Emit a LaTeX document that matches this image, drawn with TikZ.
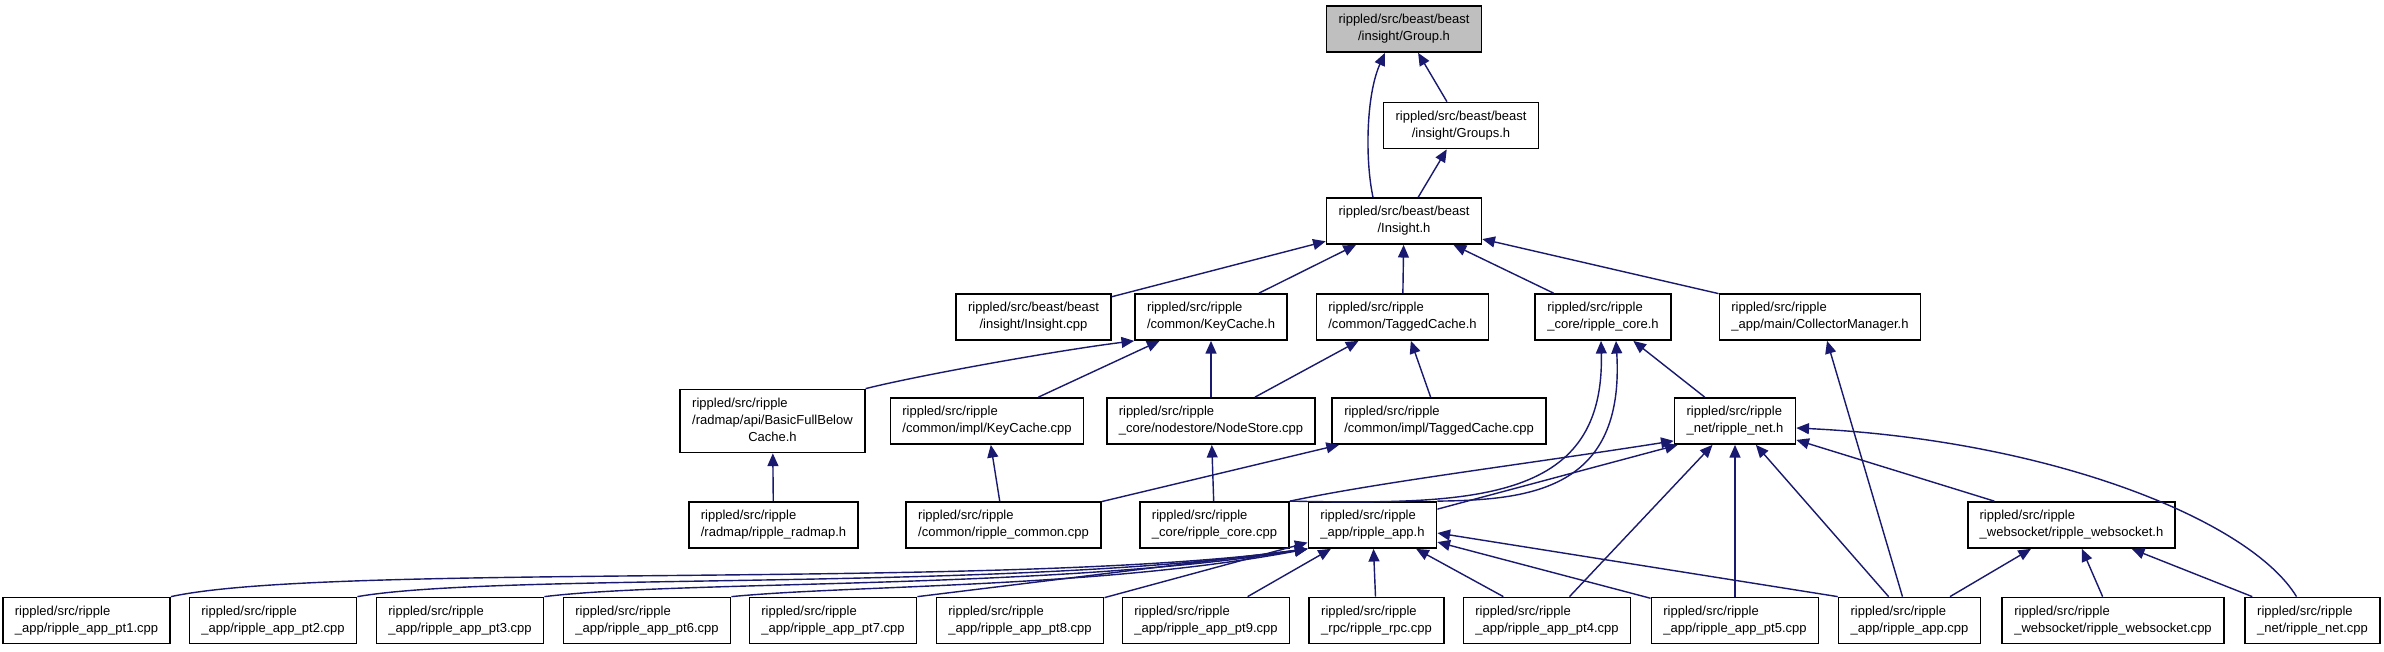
\documentclass[tikz,border=0pt]{standalone}
\usepackage{fontspec}
\setmainfont{Liberation Sans}
\usepackage{tikz}
\usetikzlibrary{arrows.meta,positioning,calc}
\definecolor{edgeblue}{RGB}{25,25,112}
% two-part label: upper lines left, last line centred
\newcommand{\flab}[2]{\begin{tabular}{@{}l@{}}#1\\\multicolumn{1}{@{}c@{}}{#2}\end{tabular}}

\begin{document}
\begin{tikzpicture}[
  x=0.01cm, y=-0.01cm,
  fnode/.style={draw=black, line width=0.5pt, fill=white, inner xsep=3.4pt, inner ysep=1.7pt, font=\fontsize{3.7}{4.84}\selectfont},
  curnode/.style={fnode, fill=gray!50},
  dep/.style={draw=edgeblue, line width=0.4pt, -{Triangle[length=3.6pt, width=3.1pt, fill=edgeblue]}}]
  \path[use as bounding box, fill=white] (0,0) rectangle (2384,651);
  % top of the graph
  \node[curnode] (group) at (1404,29) {\flab{rippled/src/beast/beast}{/insight/Group.h}};
  \node[fnode] (groups) at (1461,125.5) {\flab{rippled/src/beast/beast}{/insight/Groups.h}};
  \node[fnode] (insight) at (1404,221) {\flab{rippled/src/beast/beast}{/Insight.h}};
  % headers under Insight.h
  \node[fnode] (insightcpp) at (1033.5,317) {\flab{rippled/src/beast/beast}{/insight/Insight.cpp}};
  \node[fnode] (keycacheh) at (1211,317) {\flab{rippled/src/ripple}{/common/KeyCache.h}};
  \node[fnode] (taggedh) at (1402.5,317) {\flab{rippled/src/ripple}{/common/TaggedCache.h}};
  \node[fnode] (coreh) at (1603,317) {\flab{rippled/src/ripple}{\_core/ripple\_core.h}};
  \node[fnode] (collector) at (1820,317) {\flab{rippled/src/ripple}{\_app/main/CollectorManager.h}};
  % next level
  \node[fnode] (basicfull) at (772.5,421) {\flab{rippled/src/ripple\\/radmap/api/BasicFullBelow}{Cache.h}};
  \node[fnode] (keycachecpp) at (987,421) {\flab{rippled/src/ripple}{/common/impl/KeyCache.cpp}};
  \node[fnode] (nodestore) at (1211,421) {\flab{rippled/src/ripple}{\_core/nodestore/NodeStore.cpp}};
  \node[fnode] (taggedcpp) at (1439,421) {\flab{rippled/src/ripple}{/common/impl/TaggedCache.cpp}};
  \node[fnode] (neth) at (1735,421) {\flab{rippled/src/ripple}{\_net/ripple\_net.h}};
  % units and app header
  \node[fnode] (radmap) at (773.5,525) {\flab{rippled/src/ripple}{/radmap/ripple\_radmap.h}};
  \node[fnode] (commoncpp) at (1003.5,525) {\flab{rippled/src/ripple}{/common/ripple\_common.cpp}};
  \node[fnode] (corecpp) at (1214.5,525) {\flab{rippled/src/ripple}{\_core/ripple\_core.cpp}};
  \node[fnode] (apph) at (1372.5,525) {\flab{rippled/src/ripple}{\_app/ripple\_app.h}};
  \node[fnode] (wsh) at (2071.5,525) {\flab{rippled/src/ripple}{\_websocket/ripple\_websocket.h}};
  % bottom row
  \node[fnode] (pt1) at (86.5,620.5) {\flab{rippled/src/ripple}{\_app/ripple\_app\_pt1.cpp}};
  \node[fnode] (pt2) at (273,620.5) {\flab{rippled/src/ripple}{\_app/ripple\_app\_pt2.cpp}};
  \node[fnode] (pt3) at (460,620.5) {\flab{rippled/src/ripple}{\_app/ripple\_app\_pt3.cpp}};
  \node[fnode] (pt6) at (647,620.5) {\flab{rippled/src/ripple}{\_app/ripple\_app\_pt6.cpp}};
  \node[fnode] (pt7) at (833,620.5) {\flab{rippled/src/ripple}{\_app/ripple\_app\_pt7.cpp}};
  \node[fnode] (pt8) at (1020,620.5) {\flab{rippled/src/ripple}{\_app/ripple\_app\_pt8.cpp}};
  \node[fnode] (pt9) at (1206,620.5) {\flab{rippled/src/ripple}{\_app/ripple\_app\_pt9.cpp}};
  \node[fnode] (rpc) at (1376.5,620.5) {\flab{rippled/src/ripple}{\_rpc/ripple\_rpc.cpp}};
  \node[fnode] (pt4) at (1547,620.5) {\flab{rippled/src/ripple}{\_app/ripple\_app\_pt4.cpp}};
  \node[fnode] (pt5) at (1735,620.5) {\flab{rippled/src/ripple}{\_app/ripple\_app\_pt5.cpp}};
  \node[fnode] (appcpp) at (1909.5,620.5) {\flab{rippled/src/ripple}{\_app/ripple\_app.cpp}};
  \node[fnode] (wscpp) at (2113,620.5) {\flab{rippled/src/ripple}{\_websocket/ripple\_websocket.cpp}};
  \node[fnode] (netcpp) at (2312.5,620.5) {\flab{rippled/src/ripple}{\_net/ripple\_net.cpp}};
  % edges to Group.h and Insight.h
  \draw[dep] (groups) -- (group);
  \draw[dep] ([xshift=-0.31cm]insight.north) .. controls (1365,160) and (1366,95) .. ([xshift=-0.19cm]group.south);
  \draw[dep] (insight) -- (groups);
  \draw[dep] (insightcpp) -- (insight);
  \draw[dep] (keycacheh) -- (insight);
  \draw[dep] (taggedh) -- (insight);
  \draw[dep] (coreh) -- (insight);
  \draw[dep] (collector) -- (insight);
  % caches
  \draw[dep] (basicfull.north east) .. controls (920,375) and (1060,350) .. (keycacheh.south west);
  \draw[dep] (keycachecpp) -- (keycacheh);
  \draw[dep] (nodestore) -- (keycacheh);
  \draw[dep] (nodestore) -- (taggedh);
  \draw[dep] (taggedcpp) -- (taggedh);
  \draw[dep] (radmap) -- (basicfull);
  \draw[dep] (commoncpp) -- (keycachecpp);
  \draw[dep] (commoncpp) -- (taggedcpp);
  \draw[dep] (corecpp) -- (nodestore);
  % ripple_core.h and ripple_net.h
  \draw[dep] (corecpp.north east) .. controls (1480,505) and (1605,500) .. ([xshift=-0.02cm]coreh.south);
  \draw[dep] (apph.north east) .. controls (1530,500) and (1625,490) .. ([xshift=0.13cm]coreh.south);
  \draw[dep] (neth) -- (coreh);
  \draw[dep] (corecpp.north east) .. controls (1380,482) and (1520,465) .. ([yshift=0.04cm]neth.south west);
  \draw[dep] ([yshift=-0.08cm]apph.north east) -- ([xshift=0.04cm]neth.south west);
  \draw[dep] (pt4) -- (neth);
  \draw[dep] (pt5) -- (neth);
  \draw[dep] (appcpp) -- (neth);
  \draw[dep] (wsh) -- (neth);
  \draw[dep] ([xshift=-0.16cm]netcpp.north) .. controls (2250,520) and (2050,440) .. ([yshift=-0.07cm]neth.east);
  \draw[dep] (appcpp) -- (collector);
  % websocket
  \draw[dep] (appcpp) -- (wsh);
  \draw[dep] (wscpp) -- (wsh);
  \draw[dep] (netcpp) -- (wsh);
  % into ripple_app.h
  \draw[dep] (pt1.north east) .. controls (330,562) and (1000,590) .. (apph.south west);
  \draw[dep] (pt2.north east) .. controls (500,572) and (1000,592) .. (apph.south west);
  \draw[dep] (pt3.north east) .. controls (680,580) and (1050,590) .. (apph.south west);
  \draw[dep] (pt6.north east) .. controls (850,585) and (1100,588) .. (apph.south west);
  \draw[dep] (pt7.north east) -- (apph.south west);
  \draw[dep] (pt8) -- (apph);
  \draw[dep] (pt9) -- (apph);
  \draw[dep] (rpc) -- (apph);
  \draw[dep] (pt4) -- (apph);
  \draw[dep] (pt5) -- (apph);
  \draw[dep] (appcpp.north west) -- ([yshift=-0.08cm]apph.east);
\end{tikzpicture}
\end{document}
